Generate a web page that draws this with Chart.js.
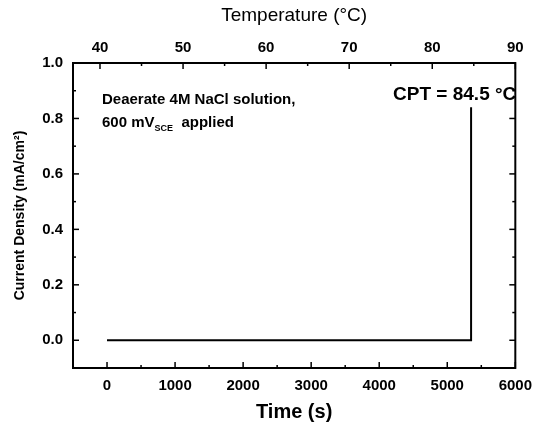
<!DOCTYPE html>
<html>
<head>
<meta charset="utf-8">
<script src="https://cdn.jsdelivr.net/npm/chart.js@4.4.1/dist/chart.umd.min.js"></script>
<style>
  html, body { margin: 0; padding: 0; background: #fff; }
  #wrap { width: 541px; height: 424px; }
</style>
</head>
<body>
<div id="wrap"><canvas id="cpt"></canvas></div>
<script>
// potentiostatic scan: current stays flat until pitting starts
const timeS = [0, 1000, 2000, 3000, 4000, 5000, 5350, 5350];
const currentDensity = [0, 0, 0, 0, 0, 0, 0, 0.84];

const timeTicks = [0, 1000, 2000, 3000, 4000, 5000, 6000];
const tempTicks = [40, 50, 60, 70, 80, 90];
const currentTicks = [0.0, 0.2, 0.4, 0.6, 0.8, 1.0];

const font = "'Liberation Sans', Arial, sans-serif";

// frame with inward ticks on all four sides, plus the text notes
const framePlugin = {
  id: 'frame',
  afterDatasetsDraw(chart) {
    const ctx = chart.ctx;
    const a = chart.chartArea;
    const xs = chart.scales.x, ts = chart.scales.x2, ys = chart.scales.y;
    ctx.save();
    ctx.strokeStyle = '#000';
    ctx.lineWidth = 2;
    ctx.strokeRect(a.left, a.top, a.right - a.left, a.bottom - a.top);

    ctx.lineWidth = 1.5;
    const tick = (x1, y1, x2, y2) => { ctx.beginPath(); ctx.moveTo(x1, y1); ctx.lineTo(x2, y2); ctx.stroke(); };
    for (let v = -500; v <= 6000; v += 500) {
      const px = xs.getPixelForValue(v);
      const len = v % 1000 === 0 ? 6 : 3;
      tick(px, a.bottom, px, a.bottom - len);
    }
    for (let v = 40; v <= 90; v += 5) {
      const px = ts.getPixelForValue(v);
      const len = v % 10 === 0 ? 6 : 3;
      tick(px, a.top, px, a.top + len);
    }
    for (let i = 0; i <= 10; i++) {
      const v = i / 10;
      const py = ys.getPixelForValue(v);
      const len = i % 2 === 0 ? 6 : 3;
      tick(a.left, py, a.left + len, py);
      tick(a.right, py, a.right - len, py);
    }

    ctx.fillStyle = '#000';
    ctx.textBaseline = 'middle';
    ctx.textAlign = 'left';
    const x0 = a.left + 29;
    ctx.font = 'bold 15px ' + font;
    ctx.fillText('Deaerate 4M NaCl solution,', x0, 100);
    ctx.fillText('600 mV', x0, 123);
    const w = ctx.measureText('600 mV').width;
    ctx.font = 'bold 9px ' + font;
    ctx.fillText('SCE', x0 + w, 129);
    const w2 = ctx.measureText('SCE').width;
    ctx.font = 'bold 15px ' + font;
    ctx.fillText('  applied', x0 + w + w2, 123);

    ctx.font = 'bold 19px ' + font;
    ctx.textAlign = 'right';
    ctx.fillText('CPT = 84.5 °C', a.right + 1, 95);
    ctx.restore();
  }
};

new Chart(document.getElementById('cpt'), {
  type: 'line',
  data: {
    datasets: [{
      label: 'Current density',
      data: timeS.map((t, i) => ({ x: t, y: currentDensity[i] })),
      borderColor: '#000',
      borderWidth: 2,
      pointRadius: 0,
      tension: 0,
      xAxisID: 'x',
      yAxisID: 'y'
    }]
  },
  options: {
    responsive: true,
    maintainAspectRatio: false,
    animation: false,
    layout: { padding: { left: 0, right: 25, top: 0, bottom: 0 } },
    plugins: { legend: { display: false }, tooltip: { enabled: false } },
    scales: {
      x: {
        type: 'linear',
        position: 'bottom',
        min: -500,
        max: 6000,
        afterBuildTicks: s => { s.ticks = timeTicks.map(v => ({ value: v })); },
        afterFit: s => { s.height = 56; },
        grid: { display: false, drawTicks: false },
        border: { display: false },
        ticks: { color: '#000', padding: 9, maxRotation: 0, callback: v => String(v), font: { family: font, size: 15, weight: 'bold' } },
        title: { display: true, text: 'Time (s)', color: '#000', padding: { top: 1, bottom: 0 }, font: { family: font, size: 20, weight: 'bold' } }
      },
      x2: {
        type: 'linear',
        position: 'top',
        min: 36.75,
        max: 90,
        afterBuildTicks: s => { s.ticks = tempTicks.map(v => ({ value: v })); },
        afterFit: s => { s.height = 63; },
        grid: { display: false, drawTicks: false },
        border: { display: false },
        ticks: { color: '#000', padding: 6, maxRotation: 0, font: { family: font, size: 15, weight: 'bold' } },
        title: { display: true, text: 'Temperature (°C)', color: '#000', padding: { top: 4, bottom: 4 }, font: { family: font, size: 19 } }
      },
      y: {
        type: 'linear',
        min: -0.1,
        max: 1.0,
        afterBuildTicks: s => { s.ticks = currentTicks.map(v => ({ value: v })); },
        afterFit: s => { s.width = 73; },
        grid: { display: false, drawTicks: false },
        border: { display: false },
        ticks: { color: '#000', padding: 10, callback: v => v.toFixed(1), font: { family: font, size: 15, weight: 'bold' } },
        title: { display: true, text: 'Current Density (mA/cm²)', color: '#000', padding: { top: 12, bottom: 0 }, font: { family: font, size: 14, weight: 'bold' } }
      }
    }
  },
  plugins: [framePlugin]
});
</script>
</body>
</html>
